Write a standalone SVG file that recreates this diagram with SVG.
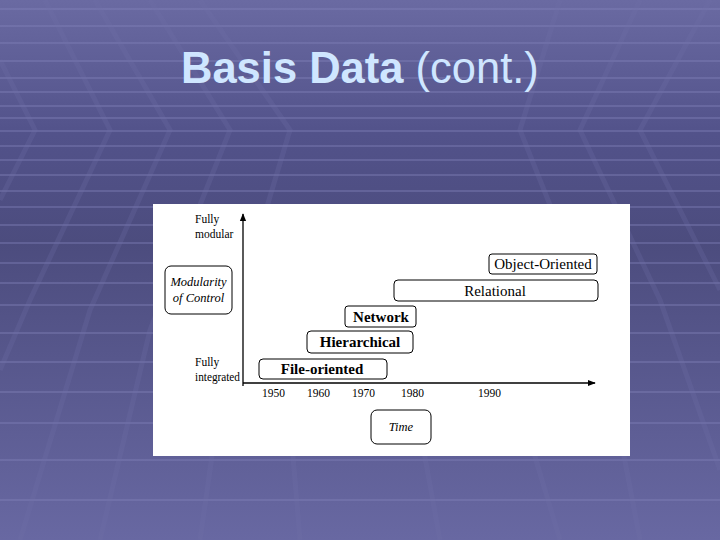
<svg xmlns="http://www.w3.org/2000/svg" width="720" height="540" viewBox="0 0 720 540">
<defs>
<linearGradient id="bg" x1="0" y1="0" x2="0" y2="1">
<stop offset="0" stop-color="#6a6aa2"/>
<stop offset="0.25" stop-color="#52528a"/>
<stop offset="0.45" stop-color="#4c4c7e"/>
<stop offset="1" stop-color="#6868a2"/>
</linearGradient>
<marker id="ah" viewBox="0 0 10 10" refX="9" refY="5" markerWidth="8" markerHeight="8" orient="auto" markerUnits="userSpaceOnUse">
<path d="M0,1 L10,5 L0,9 Z" fill="#000"/>
</marker>
<style>
.hl{stroke:#8282ba;stroke-width:2;opacity:0.4}
.dl{stroke:#7070a8;stroke-width:5;opacity:0.25;fill:none}
.box{fill:#fff;stroke:#000;stroke-width:1}
.ax{stroke:#000;stroke-width:1.3;fill:none}
.lbl{font-family:"Liberation Serif",serif;font-size:11.5px;fill:#000}
.it{font-family:"Liberation Serif",serif;font-size:12.5px;font-style:italic;fill:#000}
.bb{font-family:"Liberation Serif",serif;font-size:15px;font-weight:bold;fill:#000}
.nb{font-family:"Liberation Serif",serif;font-size:15px;fill:#000}
</style>
</defs>
<rect x="0" y="0" width="720" height="540" fill="url(#bg)"/>
<g id="grid">
<g class="hl">
<line x1="0" y1="9" x2="720" y2="9"/>
<line x1="0" y1="26" x2="720" y2="26"/>
<line x1="0" y1="43" x2="720" y2="43"/>
<line x1="0" y1="61" x2="720" y2="61"/>
<line x1="0" y1="78" x2="720" y2="78"/>
<line x1="0" y1="92" x2="720" y2="92"/>
<line x1="0" y1="106" x2="720" y2="106"/>
<line x1="0" y1="118" x2="720" y2="118"/>
<line x1="0" y1="131" x2="720" y2="131"/>
<line x1="0" y1="146" x2="720" y2="146"/>
<line x1="0" y1="160" x2="720" y2="160"/>
<line x1="0" y1="175" x2="720" y2="175"/>
<line x1="0" y1="191" x2="720" y2="191"/>
<line x1="0" y1="207" x2="720" y2="207"/>
<line x1="0" y1="225" x2="720" y2="225"/>
<line x1="0" y1="243" x2="720" y2="243"/>
<line x1="0" y1="263" x2="720" y2="263"/>
<line x1="0" y1="283" x2="720" y2="283"/>
<line x1="0" y1="305" x2="720" y2="305"/>
<line x1="0" y1="333" x2="720" y2="333"/>
<line x1="0" y1="362" x2="720" y2="362"/>
<line x1="0" y1="392" x2="720" y2="392"/>
<line x1="0" y1="423" x2="720" y2="423"/>
<line x1="0" y1="460" x2="720" y2="460"/>
<line x1="0" y1="500" x2="720" y2="500"/>
</g>
<g class="dl">
<path d="M0,60 L35,130 L0,200"/>
<path d="M45,0 L110,130 L30,300 L0,370"/>
<path d="M95,0 L170,130 L90,310 L20,540"/>
<path d="M150,0 L230,130 L150,330 L100,540"/>
<path d="M200,0 L290,130 L230,330 L200,540"/>
<path d="M560,0 L520,130 L600,330 L640,540"/>
<path d="M640,0 L580,130 L660,300 L720,470"/>
<path d="M710,0 L640,130 L700,250 L720,290"/>
<path d="M300,540 L290,420"/>
<path d="M440,540 L420,430"/>
<path d="M560,540 L530,440"/>
</g>
</g>
<g id="title">
<text x="181" y="83" font-family="Liberation Sans, Arial, sans-serif" font-size="43.5" fill="#cfe6ff"><tspan font-weight="bold">Basis Data</tspan> (cont.)</text>
</g>
<rect x="153" y="204" width="477" height="252" fill="#fff"/>
<g id="connectors">
<line class="ax" x1="243" y1="386" x2="243" y2="214" marker-end="url(#ah)"/>
<line class="ax" x1="243" y1="383" x2="595" y2="383" marker-end="url(#ah)"/>
</g>
<g id="axis-labels">
<text class="lbl" x="195" y="223">Fully</text>
<text class="lbl" x="195" y="238">modular</text>
<text class="lbl" x="195" y="366">Fully</text>
<text class="lbl" x="195" y="381" textLength="45" lengthAdjust="spacingAndGlyphs">integrated</text>
<text class="lbl" x="262" y="397">1950</text>
<text class="lbl" x="307" y="397">1960</text>
<text class="lbl" x="352" y="397">1970</text>
<text class="lbl" x="401" y="397">1980</text>
<text class="lbl" x="478" y="397">1990</text>
</g>
<g id="modularity">
<rect class="box" x="165" y="266" width="67" height="48" rx="6"/>
<text class="it" x="198.5" y="286" text-anchor="middle">Modularity</text>
<text class="it" x="198.5" y="302" text-anchor="middle">of Control</text>
</g>
<g id="time">
<rect class="box" x="371" y="410" width="60" height="34" rx="6"/>
<text class="it" x="401" y="431" text-anchor="middle">Time</text>
</g>
<g id="file-oriented">
<rect class="box" x="259" y="359" width="128" height="20" rx="4"/>
<text class="bb" x="322" y="374" text-anchor="middle">File-oriented</text>
</g>
<g id="hierarchical">
<rect class="box" x="307" y="331" width="106" height="22" rx="4"/>
<text class="bb" x="360" y="347" text-anchor="middle">Hierarchical</text>
</g>
<g id="network">
<rect class="box" x="345" y="306" width="71" height="21" rx="3"/>
<text class="bb" x="381" y="322" text-anchor="middle">Network</text>
</g>
<g id="relational">
<rect class="box" x="394" y="280" width="204" height="21" rx="4"/>
<text class="nb" x="495" y="296" text-anchor="middle">Relational</text>
</g>
<g id="object-oriented">
<rect class="box" x="489" y="254" width="108" height="20" rx="3"/>
<text class="nb" x="543" y="269" text-anchor="middle">Object-Oriented</text>
</g>
</svg>
